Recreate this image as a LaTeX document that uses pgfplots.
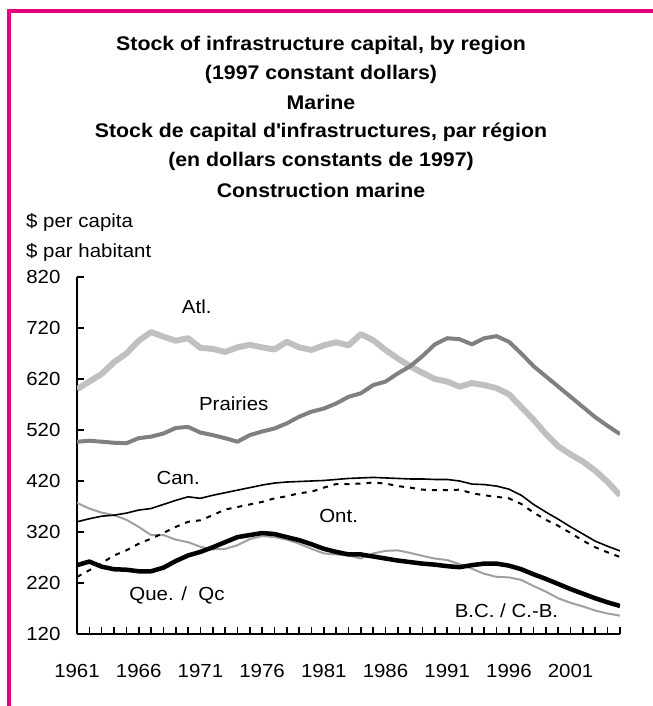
\documentclass[border=0pt]{standalone}
\usepackage{pgfplots}
\pgfplotsset{compat=1.18}
\usepackage{pgfplotstable}
\usepackage{fontspec}
\setmainfont{Liberation Sans}[FakeStretch=1.08]
\definecolor{frame}{RGB}{230,0,126}
\definecolor{atl}{RGB}{192,192,192}
\definecolor{pra}{RGB}{128,128,128}
\definecolor{bc}{RGB}{160,160,160}
\pgfplotstableread{
year atl pra can ont que bc
1961 600 497 340 232 255 377
1962 615 499 346 245 262 366
1963 630 497 351 259 252 358
1964 653 495 353 274 247 353
1965 670 494 357 284 246 344
1966 695 504 363 297 243 330
1967 712 507 366 307 243 314
1968 703 513 374 318 250 314
1969 695 524 382 330 263 305
1970 700 526 389 340 274 300
1971 681 515 386 343 281 291
1972 679 510 392 353 290 286
1973 673 504 397 364 300 287
1974 682 497 402 369 310 294
1975 687 510 407 374 314 306
1976 682 517 412 379 318 312
1977 678 523 416 386 316 310
1978 693 533 418 390 310 305
1979 682 546 419 396 304 297
1980 677 556 420 399 296 287
1981 686 562 421 407 287 278
1982 692 572 423 414 281 276
1983 686 585 425 414 276 274
1984 708 592 426 415 276 268
1985 696 608 427 417 272 278
1986 677 615 426 415 268 283
1987 660 631 425 410 264 284
1988 645 645 424 407 261 279
1989 632 665 424 403 258 273
1990 620 688 423 402 256 268
1991 615 700 423 402 253 265
1992 605 698 420 403 251 257
1993 612 688 414 396 255 248
1994 608 700 413 392 258 238
1995 602 704 410 389 258 232
1996 590 693 404 386 254 231
1997 565 670 392 375 247 226
1998 540 645 374 358 237 214
1999 512 625 359 344 228 203
2000 488 605 345 332 218 190
2001 472 585 330 318 208 181
2002 458 565 316 303 199 174
2003 440 545 302 290 190 166
2004 418 528 292 280 182 160
2005 392 512 283 271 175 156
}\datatable
\begin{document}
\begin{tikzpicture}[x=1bp,y=1bp]
\useasboundingbox (0,0) rectangle (653,706);
\fill[white] (0,0) rectangle (653,706);
\draw[frame, line width=4bp] (9,-5) -- (9,695) -- (660,695);
\begin{scope}[every node/.style={font=\fontsize{19.8}{22}\bfseries\selectfont, inner sep=0}]
\node at (321,706-45) {Stock of infrastructure capital, by region};
\node at (321,706-74) {(1997 constant dollars)};
\node at (321,706-102) {Marine};
\node at (321,706-132) {Stock de capital d\textquotesingle infrastructures, par région};
\node at (321,706-161) {(en dollars constants de 1997)};
\node at (321,706-190) {Construction marine};
\end{scope}
\begin{scope}[every node/.style={font=\fontsize{19}{22}\selectfont, inner sep=0, anchor=west}]
\node at (26,706-222) {\$ per capita};
\node at (26,706-252) {\$ par habitant};
\end{scope}
\begin{axis}[
  at={(77bp,72bp)}, anchor=south west,
  scale only axis, width=543bp, height=357bp,
  xmin=1961, xmax=2005, ymin=120, ymax=820,
  axis x line=bottom, axis y line=left,
  axis line style={-, line width=2.5bp, black},
  tick align=inside,
  major tick length=7bp,
  tick style={black, line width=1.6bp},
  ytick={120,220,...,820},
  xtick={1961,...,2005},
  xticklabels={1961,,,,,1966,,,,,1971,,,,,1976,,,,,1981,,,,,1986,,,,,1991,,,,,1996,,,,,2001,,,,},
  /pgf/number format/assume math mode=true,
  yticklabel style={font=\fontsize{19}{22}\selectfont, xshift=-13bp, /pgf/number format/1000 sep={}},
  xticklabel style={font=\fontsize{19}{22}\selectfont, yshift=-27bp, /pgf/number format/1000 sep={}},
  every axis plot/.append style={line join=round},
]
\addplot[atl, line width=6bp] table[x=year,y=atl] {\datatable};
\addplot[pra, line width=4bp] table[x=year,y=pra] {\datatable};
\addplot[bc, line width=2bp] table[x=year,y=bc] {\datatable};
\addplot[black, line width=1.6bp] table[x=year,y=can] {\datatable};
\addplot[black, line width=2bp, dash pattern=on 5bp off 6bp] table[x=year,y=ont] {\datatable};
\addplot[black, line width=4.5bp] table[x=year,y=que] {\datatable};
\begin{scope}[every node/.style={font=\fontsize{19}{22}\selectfont, inner sep=0}]
\node at (axis cs:1970.7,762) {Atl.};
\node at (axis cs:1973.7,571) {Prairies};
\node at (axis cs:1969.2,426) {Can.};
\node at (axis cs:1982.2,351) {Ont.};
\node at (axis cs:1969.1,196) {Que. /\ \ Qc};
\node at (axis cs:1995.8,166) {B.C. / C.-B.};
\end{scope}
\end{axis}
\end{tikzpicture}
\end{document}
